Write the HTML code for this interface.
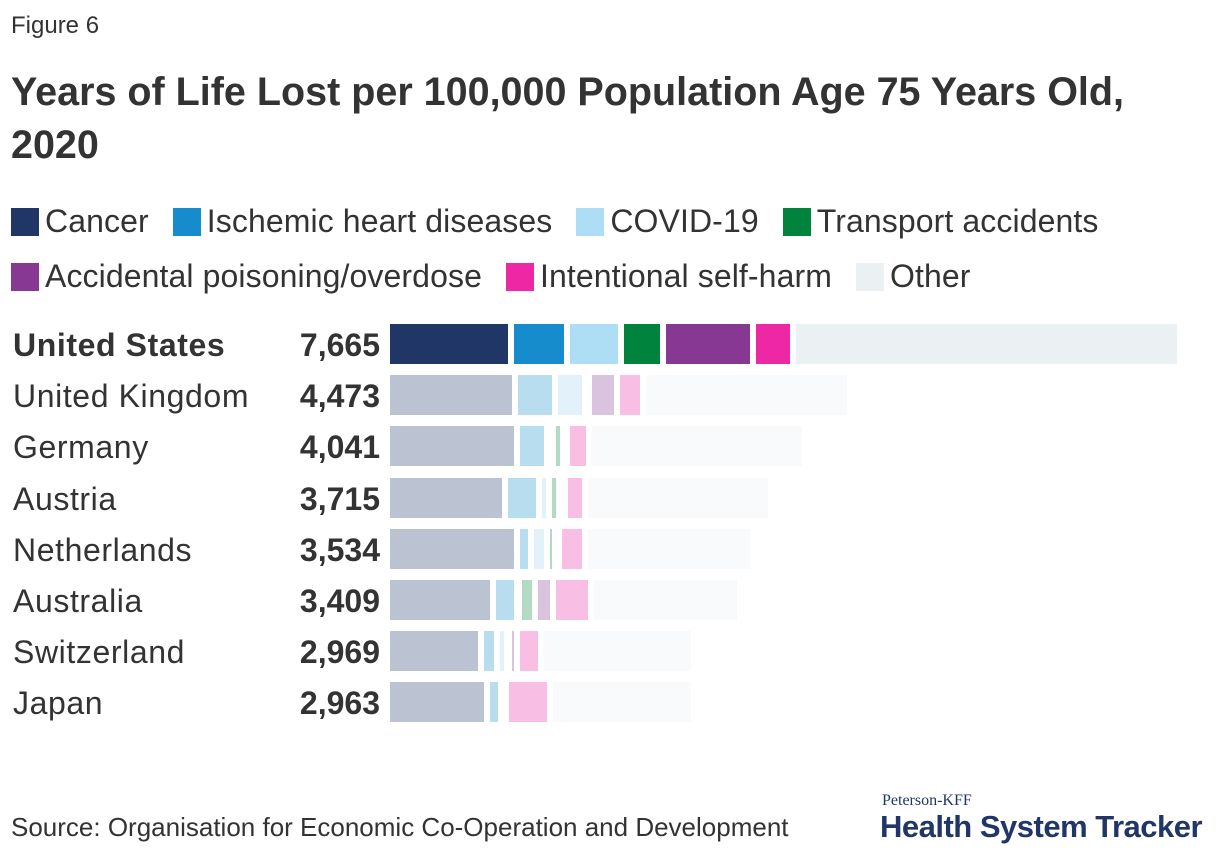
<!DOCTYPE html>
<html><head><meta charset="utf-8"><style>
body{margin:0;width:1220px;height:856px;background:#fff;font-family:"Liberation Sans",sans-serif;color:#333;position:relative;overflow:hidden}
.a{position:absolute;white-space:nowrap}
.leg{position:absolute;left:11px;font-size:32px;color:#333;display:flex;align-items:center;letter-spacing:0.1px}
.leg span.s{display:inline-block;width:28px;height:28px;margin-right:6px}
.leg .e{display:flex;align-items:center;margin-right:24px}
</style></head><body>
<div class="a" style="left:11px;top:12px;font-size:24px;color:#333">Figure 6</div>
<div class="a" style="left:11px;top:66px;font-size:39.5px;font-weight:bold;line-height:53px;color:#333;white-space:normal;width:1160px">Years of Life Lost per 100,000 Population Age 75 Years Old, 2020</div>
<div class="leg" style="top:203px">
<div class="e"><span class="s" style="background:#1f3667"></span>Cancer</div>
<div class="e"><span class="s" style="background:#168ccc"></span>Ischemic heart diseases</div>
<div class="e"><span class="s" style="background:#addef5"></span>COVID-19</div>
<div class="e"><span class="s" style="background:#00843d"></span>Transport accidents</div>
</div>
<div class="leg" style="top:258px">
<div class="e"><span class="s" style="background:#863893"></span>Accidental poisoning/overdose</div>
<div class="e"><span class="s" style="background:#ee28a4"></span>Intentional self-harm</div>
<div class="e"><span class="s" style="background:#ebf0f3"></span>Other</div>
</div>
<div id="chart"></div>
<div class="a" style="left:11px;top:812px;font-size:26px;color:#333">Source: Organisation for Economic Co-Operation and Development</div>
<div class="a" style="left:882px;top:792px;font-size:16px;font-family:'Liberation Serif',serif;color:#1f3667">Peterson-KFF</div>
<div class="a" style="left:880px;top:809px;font-size:31px;font-weight:bold;color:#1f3667;letter-spacing:-0.5px">Health System Tracker</div>
<script>
const countries=["United States","United Kingdom","Germany","Austria","Netherlands","Australia","Switzerland","Japan"];
const totals=[7665,4473,4041,3715,3534,3409,2969,2963];
const cancer=[1198,1237,1256,1140,1256,1024,908,966];
const ischemic=[541,386,290,328,135,232,155,135];
const covid=[522,290,58,97,155,20,97,15];
const transport=[406,40,97,97,77,155,20,15];
const poisoning=[870,270,40,58,40,174,77,15];
const selfharm=[386,251,213,193,251,367,232,425];
const full=["#1f3667","#168ccc","#addef5","#00843d","#863893","#ee28a4","#ebf0f3"];
const muted=["#bbc2d1","#b8ddef","#e3f2fa","#b3dac5","#dac3df","#f8bee4","#f9fafc"];
const k=0.1035,x0=390,gap=6,barH=40,top0=324,step=51.2;
const c=document.getElementById('chart');
countries.forEach((name,i)=>{
  const y=top0+i*step;
  const bold=i===0;
  const l=document.createElement('div');
  l.className='a';
  
  
  l.style.cssText=`left:13px;top:${y+1}px;font-size:32px;line-height:40px;letter-spacing:0.6px;${bold?'font-weight:bold;':''}`;
  l.textContent=name;c.appendChild(l);
  const v=document.createElement('div');
  v.className='a';
  
  
  v.style.cssText=`right:${1220-380}px;top:${y+1}px;font-size:32px;line-height:40px;font-weight:bold`;
  v.textContent=totals[i].toLocaleString('en-US');c.appendChild(v);
  const vals=[cancer[i],ischemic[i],covid[i],transport[i],poisoning[i],selfharm[i]];
  vals.push(totals[i]-vals.reduce((a,b)=>a+b,0));
  let cum=0;
  vals.forEach((val,j)=>{
    const xs=x0+cum*k;cum+=val;
    const w=Math.max(0,val*k-gap);
    const b=document.createElement('div');
    b.className='a';
    
    
    b.style.cssText=`left:${xs}px;top:${y}px;width:${w}px;height:${barH}px;background:${bold?full[j]:muted[j]}`;
    c.appendChild(b);
  });
});
</script>
</body></html>
